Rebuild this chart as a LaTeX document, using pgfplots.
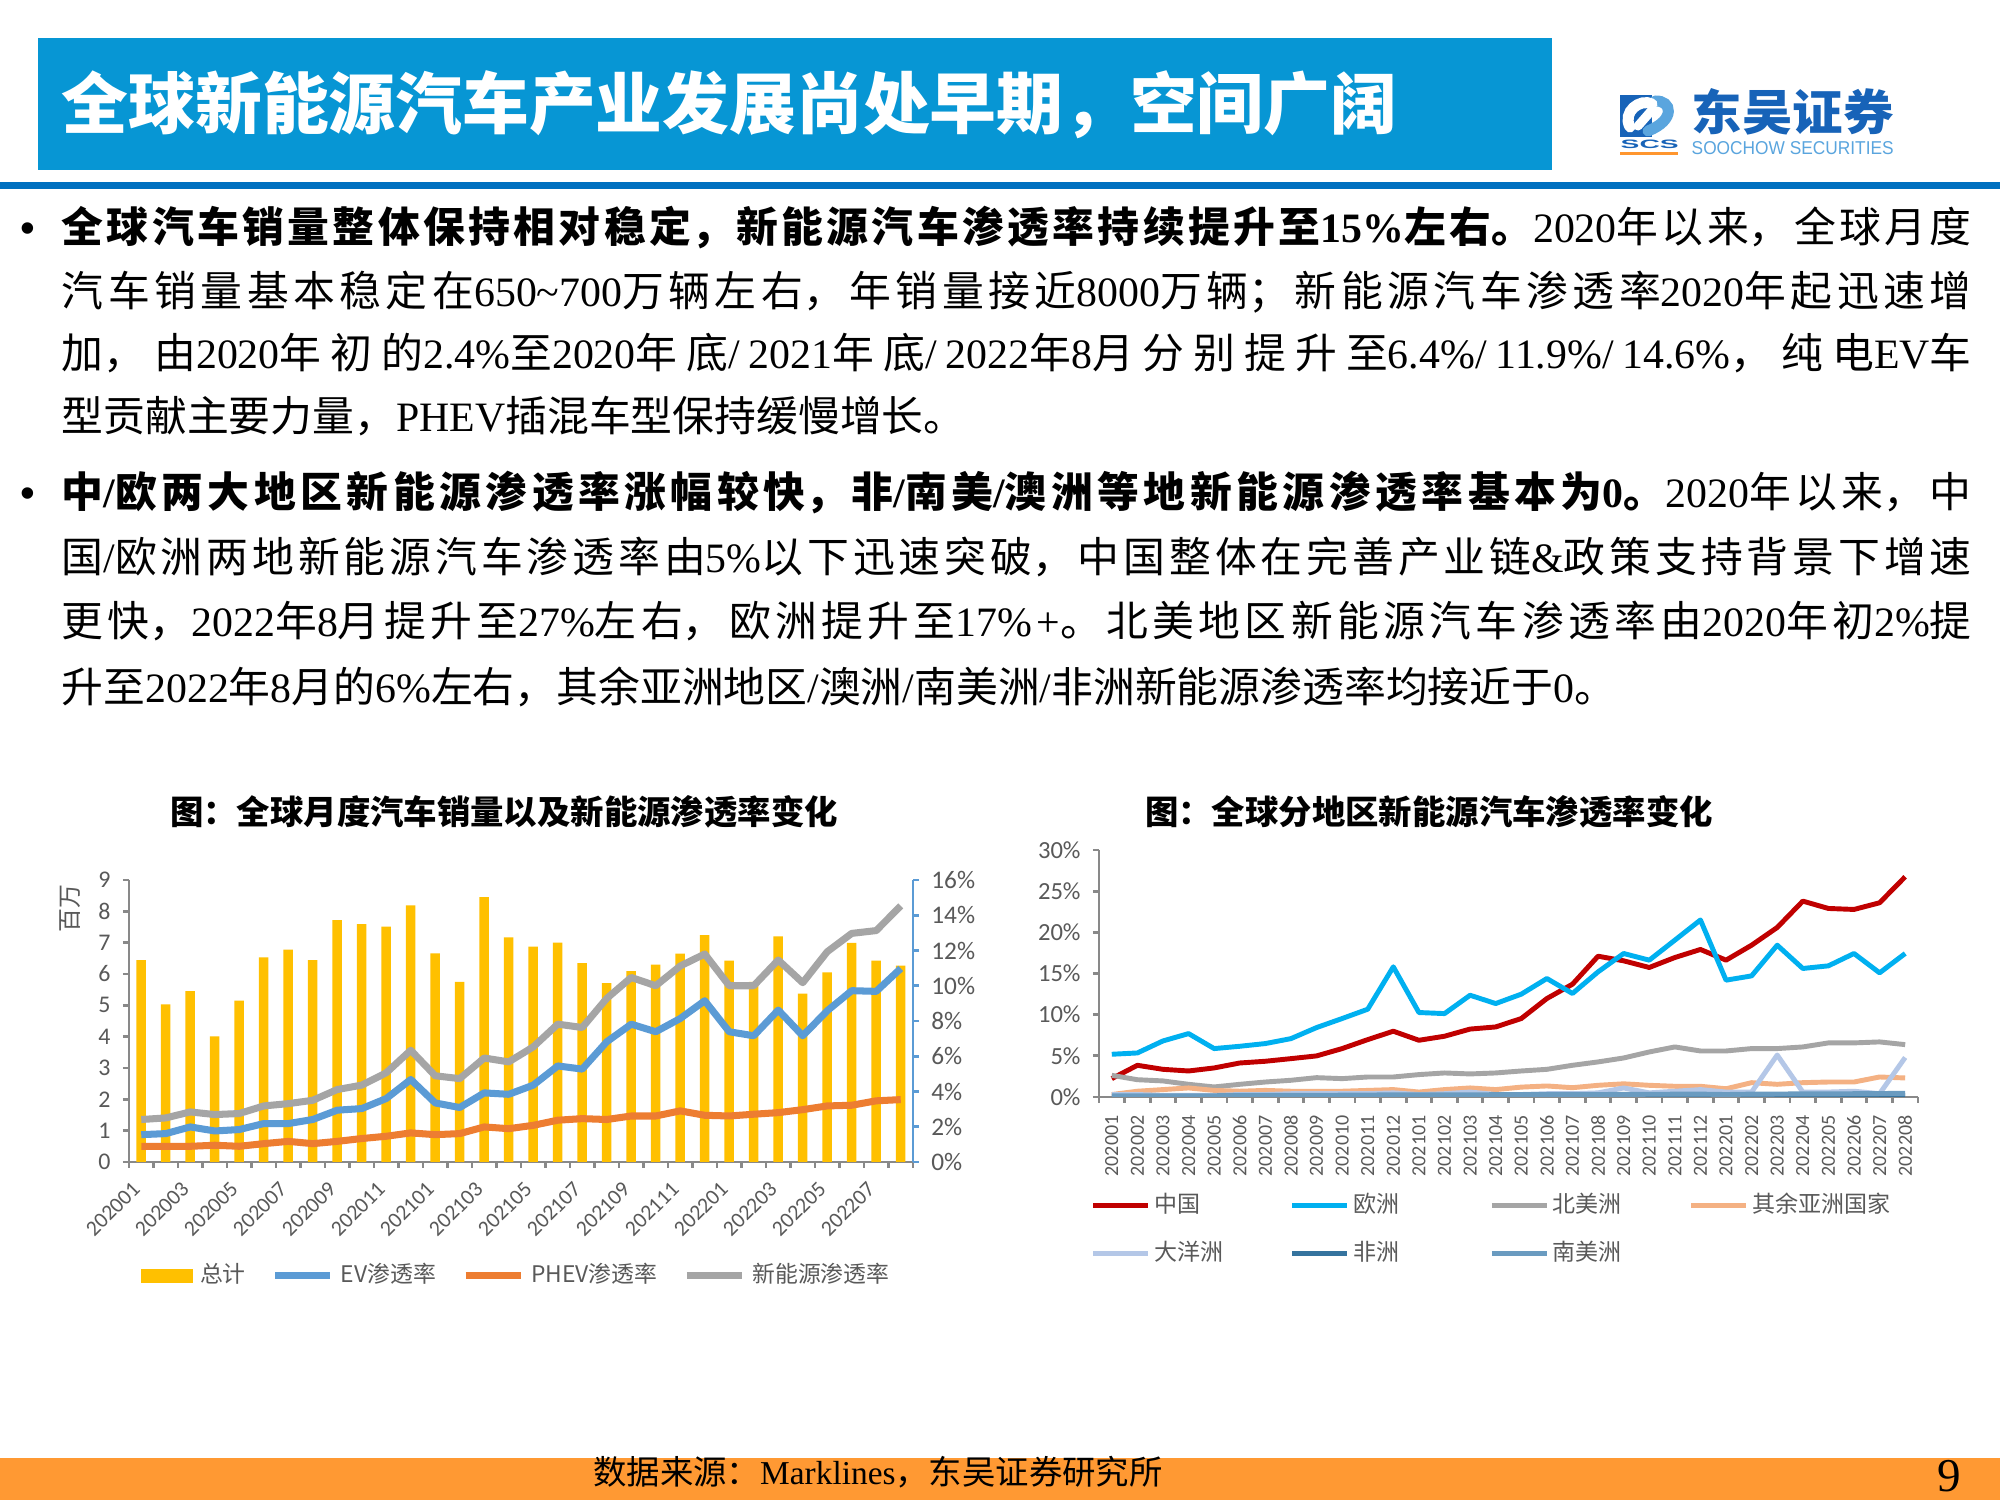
\documentclass[border=0pt]{standalone}
\usepackage{fontspec}
\usepackage{graphicx}
\usepackage{pgfplots}
\pgfplotsset{compat=1.18}
\setmainfont{Liberation Serif}
\newfontfamily\cjk{Noto Sans CJK SC}
\newfontfamily\carl{Carlito}
\newfontfamily\tnr{Liberation Serif}
\newfontfamily\ari{Liberation Sans}
\XeTeXlinebreaklocale "zh"
\XeTeXlinebreakskip=0pt plus 2pt
\newcommand\T[1]{{\tnr #1}}
\newcommand\jline[1]{\parbox[b]{191mm}{\parfillskip=0pt\tolerance=10000\relax #1}}
\definecolor{hdrblue}{HTML}{0796D4}
\definecolor{lineblue}{HTML}{0070C0}
\definecolor{barY}{HTML}{FFC000}
\definecolor{evB}{HTML}{5B9BD5}
\definecolor{phevO}{HTML}{ED7D31}
\definecolor{nevG}{HTML}{A5A5A5}
\definecolor{cnR}{HTML}{C00000}
\definecolor{euC}{HTML}{00B0F0}
\definecolor{oaO}{HTML}{F4B183}
\definecolor{ocB}{HTML}{B4C7E7}
\definecolor{afB}{HTML}{35739E}
\definecolor{saB}{HTML}{6A9BC0}
\definecolor{axG}{HTML}{898989}
\definecolor{txG}{HTML}{595959}
\definecolor{footO}{HTML}{FF9933}
\definecolor{logoB}{HTML}{1763B8}
\definecolor{logoL}{HTML}{5AA5DE}
\begin{document}
\begin{tikzpicture}
\begin{scope}[x=0.1mm,y=-0.1mm]
\path[use as bounding box, fill=white] (0,0) rectangle (2000,1500);
% header
\fill[hdrblue] (38,38) rectangle (1552,170);
\node[anchor=west, text=white, inner sep=0, font=\cjk\bfseries\fontsize{19pt}{21pt}\selectfont] at (61,105) {全球新能源汽车产业发展尚处早期，空间广阔};
\fill[lineblue] (0,182) rectangle (2000,189);
% logo
\fill[logoB] (1620,95) rectangle (1678,137);
\fill[white] (1652,95) rectangle (1678,137);
\draw[logoL, line width=1.1mm, line cap=round] (1648,131) .. controls (1676,120) and (1672,100) .. (1655,101);
\draw[white, line width=1.1mm, line cap=round] (1630,127) .. controls (1622,112) and (1640,98) .. (1652,104);
\draw[white, line width=0.9mm, line cap=round] (1638,126) -- (1652,110);
\node[anchor=south west, inner sep=0] at (1620,149) {\resizebox{5.8mm}{0.85mm}{\ari\bfseries\color{logoB}SCS}};
\fill[footO!90!orange] (1620,152) rectangle (1678,155);
\node[anchor=south west, inner sep=0, text=logoB] at (1691,136) {\resizebox{20.2mm}{4.2mm}{\cjk\bfseries 东吴证券}};
\node[anchor=south west, inner sep=0] at (1691,155) {\resizebox{20.2mm}{1.3mm}{\ari\color{logoL}SOOCHOW SECURITIES}};
% bullets
\node[anchor=base, inner sep=0, font=\ari\fontsize{12pt}{14pt}\selectfont] at (28,243) {•};
\node[anchor=base, inner sep=0, font=\ari\fontsize{12pt}{14pt}\selectfont] at (28,508) {•};
\begin{scope}[every node/.style={anchor=base west, inner sep=0, font=\cjk\fontsize{11.9pt}{14pt}\selectfont}]
\node at (61,243) {\jline{{\bfseries 全球汽车销量整体保持相对稳定，新能源汽车渗透率持续提升至\T{15\%}左右。}\T{2020}年以来，全球月度}};
\node at (61,307) {\jline{汽车销量基本稳定在\T{650\textasciitilde700}万辆左右，年销量接近\T{8000}万辆；新能源汽车渗透率\T{2020}年起迅速增}};
\node at (61,369) {\jline{加，由\T{2020}年初的\T{2.4\%}至\T{2020}年底\T{/2021}年底\T{/2022}年\T{8}月分别提升至\T{6.4\%/11.9\%/14.6\%}，纯电\T{EV}车}};
\node at (61,432) {型贡献主要力量，\T{PHEV}插混车型保持缓慢增长。};
\node at (61,508) {\jline{{\bfseries 中\T{/}欧两大地区新能源渗透率涨幅较快，非\T{/}南美\T{/}澳洲等地新能源渗透率基本为\T{0}。}\T{2020}年以来，中}};
\node at (61,572) {\jline{国\T{/}欧洲两地新能源汽车渗透率由\T{5\%}以下迅速突破，中国整体在完善产业链\T{\&}政策支持背景下增速}};
\node at (61,636) {\jline{更快，\T{2022}年\T{8}月提升至\T{27\%}左右，欧洲提升至\T{17\%+}。北美地区新能源汽车渗透率由\T{2020}年初\T{2\%}提}};
\node at (61,702) {升至\T{2022}年\T{8}月的\T{6\%}左右，其余亚洲地区\T{/}澳洲\T{/}南美洲\T{/}非洲新能源渗透率均接近于\T{0}。};
\end{scope}
% chart titles
\node[font=\cjk\bfseries\fontsize{9.5pt}{11pt}\selectfont] at (504,812) {图：全球月度汽车销量以及新能源渗透率变化};
\node[font=\cjk\bfseries\fontsize{9.5pt}{11pt}\selectfont] at (1429,812) {图：全球分地区新能源汽车渗透率变化};
% footer
\fill[footO] (0,1458) rectangle (2000,1500);
\node[font=\cjk\fontsize{9.5pt}{11pt}\selectfont] at (878,1472) {数据来源：\T{Marklines}，东吴证券研究所};
\node[font=\tnr\fontsize{13.4pt}{15pt}\selectfont] at (1949,1476) {9};
\end{scope}

%%%%% LEFT CHART: bars
\begin{axis}[
  at={(12.9mm,-116.2mm)}, anchor=south west, scale only axis,
  width=78.4mm, height=28.2mm, clip=false,
  xmin=-0.5, xmax=31.5, ymin=0, ymax=9,
  axis x line*=bottom, axis y line*=left,
  axis line style={draw=axG, line width=0.8pt, -},
  every tick/.style={draw=axG, line width=0.8pt},
  tick align=outside, major tick length=0.6mm,
  /pgf/number format/assume math mode=true,
  ytick={0,1,...,9},
  yticklabel style={font=\carl\fontsize{6.8pt}{8pt}\selectfont, text=txG},
  xtick={-0.5,0.5,...,31.5},
  xticklabels={202001,,202003,,202005,,202007,,202009,,202011,,202101,,202103,,202105,,202107,,202109,,202111,,202201,,202203,,202205,,202207,,},
  xticklabel style={font=\carl\fontsize{6.2pt}{7pt}\selectfont, text=txG, xshift=1.6mm, yshift=-0.9mm, rotate=45, anchor=east},
]
\addplot[ybar, bar width=0.95mm, fill=barY, draw=none] coordinates {(0,6.44)(1,5.03)(2,5.45)(3,4.01)(4,5.15)(5,6.53)(6,6.78)(7,6.44)(8,7.72)(9,7.59)(10,7.51)(11,8.19)(12,6.66)(13,5.75)(14,8.45)(15,7.17)(16,6.87)(17,7.00)(18,6.35)(19,5.71)(20,6.09)(21,6.30)(22,6.65)(23,7.24)(24,6.43)(25,5.75)(26,7.20)(27,5.37)(28,6.05)(29,6.99)(30,6.43)(31,6.27)};
\node[rotate=90, font=\cjk\fontsize{6.8pt}{8pt}\selectfont, text=txG] at (axis description cs:-0.075,0.9) {百万};
\end{axis}

%%%%% LEFT CHART: lines
\begin{axis}[
  at={(12.9mm,-116.2mm)}, anchor=south west, scale only axis,
  width=78.4mm, height=28.2mm,
  xmin=-0.5, xmax=31.5, ymin=0, ymax=16,
  axis x line=none, axis y line*=right,
  axis line style={draw=evB, line width=0.8pt, -},
  every tick/.style={draw=evB, line width=0.8pt},
  tick align=outside, major tick length=0.6mm,
  /pgf/number format/assume math mode=true,
  ytick={0,2,...,16},
  yticklabel={\pgfmathprintnumber{\tick}\%},
  yticklabel style={font=\carl\fontsize{7.2pt}{8pt}\selectfont, text=txG},
  legend columns=4,
  legend style={at={(0.497,-0.404)}, anchor=center, draw=none, fill=none,
    font=\cjk\fontsize{6.5pt}{8pt}\selectfont, text=txG,
    /tikz/every even column/.append style={column sep=1.9mm}},
  lineleg/.style={legend image code/.code={\draw[##1] (0mm,0mm) -- (5.5mm,0mm);}},
]
\addlegendimage{legend image code/.code={\fill[barY] (0mm,-0.65mm) rectangle (5.1mm,0.65mm);}}
\addlegendentry{总计}
\addplot[evB, line width=2pt, line join=round, lineleg] coordinates {(0,1.55)(1,1.61)(2,1.99)(3,1.76)(4,1.84)(5,2.18)(6,2.18)(7,2.41)(8,2.94)(9,3.03)(10,3.60)(11,4.68)(12,3.35)(13,3.09)(14,3.92)(15,3.84)(16,4.36)(17,5.45)(18,5.27)(19,6.82)(20,7.82)(21,7.39)(22,8.14)(23,9.15)(24,7.39)(25,7.16)(26,8.62)(27,7.16)(28,8.58)(29,9.72)(30,9.68)(31,10.98)};
\addlegendentry{EV渗透率}
\addplot[phevO, line width=2pt, line join=round, lineleg] coordinates {(0,0.89)(1,0.89)(2,0.89)(3,0.95)(4,0.89)(5,1.04)(6,1.17)(7,1.04)(8,1.17)(9,1.33)(10,1.46)(11,1.65)(12,1.55)(13,1.61)(14,1.99)(15,1.89)(16,2.08)(17,2.37)(18,2.46)(19,2.41)(20,2.61)(21,2.61)(22,2.90)(23,2.65)(24,2.61)(25,2.71)(26,2.80)(27,2.97)(28,3.18)(29,3.22)(30,3.47)(31,3.54)};
\addlegendentry{PHEV渗透率}
\addplot[nevG, line width=2pt, line join=round, lineleg] coordinates {(0,2.41)(1,2.50)(2,2.84)(3,2.69)(4,2.75)(5,3.18)(6,3.31)(7,3.50)(8,4.11)(9,4.36)(10,5.06)(11,6.34)(12,4.89)(13,4.73)(14,5.90)(15,5.68)(16,6.53)(17,7.82)(18,7.63)(19,9.28)(20,10.47)(21,10.00)(22,11.12)(23,11.80)(24,10.00)(25,10.00)(26,11.46)(27,10.17)(28,11.93)(29,12.97)(30,13.13)(31,14.53)};
\addlegendentry{新能源渗透率}
\end{axis}

%%%%% RIGHT CHART
\begin{axis}[
  at={(109.9mm,-109.7mm)}, anchor=south west, scale only axis,
  width=81.9mm, height=24.7mm,
  xmin=-0.5, xmax=31.5, ymin=0, ymax=30,
  axis x line*=bottom, axis y line*=left,
  axis line style={draw=axG, line width=0.8pt, -},
  every tick/.style={draw=axG, line width=0.8pt},
  tick align=outside, major tick length=0.6mm,
  /pgf/number format/assume math mode=true,
  ytick={0,5,...,30},
  yticklabel={\pgfmathprintnumber{\tick}\%},
  yticklabel style={font=\carl\fontsize{7pt}{8pt}\selectfont, text=txG},
  xtick={-0.5,0.5,...,31.5},
  xticklabels={202001,202002,202003,202004,202005,202006,202007,202008,202009,202010,202011,202012,202101,202102,202103,202104,202105,202106,202107,202108,202109,202110,202111,202112,202201,202202,202203,202204,202205,202206,202207,202208,},
  xticklabel style={font=\carl\fontsize{5.7pt}{6pt}\selectfont, text=txG, xshift=1.28mm, rotate=90, anchor=east},
  legend columns=4,
  legend cell align=left,
  legend style={at={(-0.024,-0.344)}, anchor=north west, draw=none, fill=none,
    font=\cjk\fontsize{6.55pt}{8pt}\selectfont, text=txG, row sep=1.6mm,
    nodes={inner sep=0.35mm}},
  lineleg/.style={legend image code/.code={\draw[##1] (0mm,0mm) -- (5.5mm,0mm);}},
  every axis plot/.append style={line width=1.4pt, line join=round, lineleg},
]
\addplot[cnR] coordinates {(0,2.23)(1,3.85)(2,3.36)(3,3.16)(4,3.53)(5,4.13)(6,4.34)(7,4.66)(8,4.99)(9,5.88)(10,6.97)(11,7.99)(12,6.89)(13,7.38)(14,8.25)(15,8.51)(16,9.53)(17,11.96)(18,13.70)(19,17.10)(20,16.54)(21,15.73)(22,16.94)(23,17.92)(24,16.62)(25,18.44)(26,20.59)(27,23.79)(28,22.90)(29,22.78)(30,23.59)(31,26.75)};
\addlegendentry{\makebox[13.25mm][l]{中国}}
\addplot[euC] coordinates {(0,5.19)(1,5.35)(2,6.81)(3,7.70)(4,5.88)(5,6.16)(6,6.49)(7,7.09)(8,8.43)(9,9.53)(10,10.66)(11,15.81)(12,10.26)(13,10.13)(14,12.36)(15,11.35)(16,12.49)(17,14.39)(18,12.57)(19,15.20)(20,17.43)(21,16.62)(22,19.05)(23,21.50)(24,14.19)(25,14.71)(26,18.44)(27,15.61)(28,15.93)(29,17.43)(30,15.08)(31,17.43)};
\addlegendentry{\makebox[13.25mm][l]{欧洲}}
\addplot[nevG] coordinates {(0,2.63)(1,2.10)(2,1.95)(3,1.54)(4,1.22)(5,1.54)(6,1.82)(7,2.03)(8,2.35)(9,2.23)(10,2.43)(11,2.43)(12,2.72)(13,2.92)(14,2.80)(15,2.92)(16,3.16)(17,3.36)(18,3.85)(19,4.26)(20,4.74)(21,5.47)(22,6.08)(23,5.59)(24,5.59)(25,5.88)(26,5.88)(27,6.08)(28,6.57)(29,6.57)(30,6.69)(31,6.36)};
\addlegendentry{\makebox[13.25mm][l]{北美洲}}
\addplot[oaO] coordinates {(0,0.30)(1,0.70)(2,0.90)(3,1.10)(4,0.80)(5,0.70)(6,0.80)(7,0.70)(8,0.70)(9,0.70)(10,0.80)(11,0.90)(12,0.60)(13,0.90)(14,1.10)(15,0.90)(16,1.20)(17,1.34)(18,1.13)(19,1.42)(20,1.60)(21,1.42)(22,1.30)(23,1.30)(24,1.00)(25,1.74)(26,1.54)(27,1.74)(28,1.82)(29,1.82)(30,2.43)(31,2.31)};
\addlegendentry{其余亚洲国家}
\addplot[ocB] coordinates {(0,0.30)(1,0.30)(2,0.20)(3,0.20)(4,0.20)(5,0.30)(6,0.30)(7,0.40)(8,0.40)(9,0.40)(10,0.40)(11,0.50)(12,0.30)(13,0.40)(14,0.60)(15,0.30)(16,0.30)(17,0.40)(18,0.40)(19,0.50)(20,1.10)(21,0.50)(22,0.70)(23,0.90)(24,0.60)(25,0.60)(26,5.10)(27,0.60)(28,0.60)(29,0.70)(30,0.40)(31,4.80)};
\addlegendentry{\makebox[13.25mm][l]{大洋洲}}
\addplot[afB] coordinates {(0,0.05)(1,0.05)(2,0.05)(3,0.05)(4,0.05)(5,0.06)(6,0.06)(7,0.06)(8,0.07)(9,0.07)(10,0.08)(11,0.08)(12,0.08)(13,0.08)(14,0.09)(15,0.09)(16,0.10)(17,0.10)(18,0.10)(19,0.10)(20,0.11)(21,0.11)(22,0.12)(23,0.12)(24,0.12)(25,0.13)(26,0.13)(27,0.14)(28,0.14)(29,0.15)(30,0.15)(31,0.16)};
\addlegendentry{\makebox[13.25mm][l]{非洲}}
\addplot[saB] coordinates {(0,0.15)(1,0.15)(2,0.15)(3,0.15)(4,0.15)(5,0.20)(6,0.20)(7,0.20)(8,0.20)(9,0.22)(10,0.24)(11,0.26)(12,0.25)(13,0.25)(14,0.27)(15,0.28)(16,0.28)(17,0.30)(18,0.30)(19,0.30)(20,0.32)(21,0.33)(22,0.34)(23,0.35)(24,0.30)(25,0.35)(26,0.36)(27,0.38)(28,0.38)(29,0.40)(30,0.42)(31,0.45)};
\addlegendentry{\makebox[13.25mm][l]{南美洲}}
\end{axis}
\end{tikzpicture}
\end{document}
